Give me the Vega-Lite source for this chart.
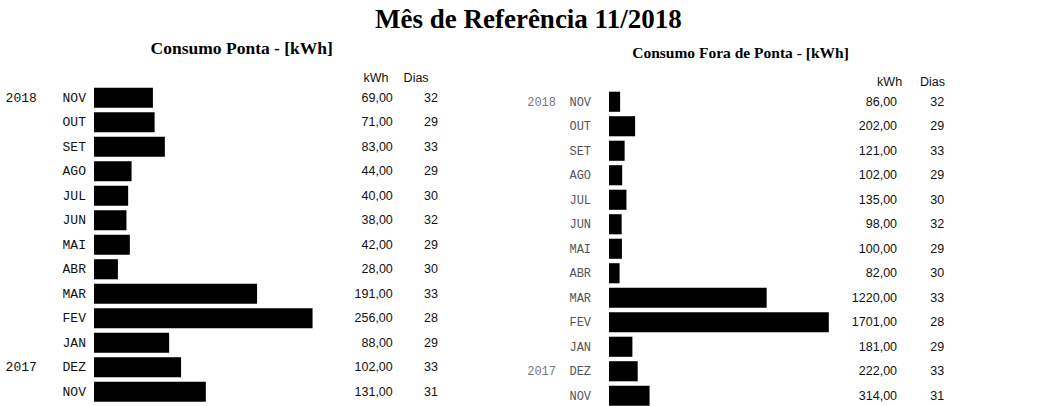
{
  "$schema": "https://vega.github.io/schema/vega-lite/v6.json",
  "background": "white",
  "padding": 5,
  "title": {"text": "Mês de Referência 11/2018", "font": "Liberation Serif", "fontSize": 27, "fontWeight": "bold", "color": "#000", "anchor": "middle", "dx": 51, "offset": 6},
  "datasets": {
    "ponta": [
      {"per": "2018-11", "ano": "2018", "mes": "NOV", "kwh": 69, "dias": 32},
      {"per": "2018-10", "ano": "", "mes": "OUT", "kwh": 71, "dias": 29},
      {"per": "2018-09", "ano": "", "mes": "SET", "kwh": 83, "dias": 33},
      {"per": "2018-08", "ano": "", "mes": "AGO", "kwh": 44, "dias": 29},
      {"per": "2018-07", "ano": "", "mes": "JUL", "kwh": 40, "dias": 30},
      {"per": "2018-06", "ano": "", "mes": "JUN", "kwh": 38, "dias": 32},
      {"per": "2018-05", "ano": "", "mes": "MAI", "kwh": 42, "dias": 29},
      {"per": "2018-04", "ano": "", "mes": "ABR", "kwh": 28, "dias": 30},
      {"per": "2018-03", "ano": "", "mes": "MAR", "kwh": 191, "dias": 33},
      {"per": "2018-02", "ano": "", "mes": "FEV", "kwh": 256, "dias": 28},
      {"per": "2018-01", "ano": "", "mes": "JAN", "kwh": 88, "dias": 29},
      {"per": "2017-12", "ano": "2017", "mes": "DEZ", "kwh": 102, "dias": 33},
      {"per": "2017-11", "ano": "", "mes": "NOV", "kwh": 131, "dias": 31}
    ],
    "fora": [
      {"per": "2018-11", "ano": "2018", "mes": "NOV", "kwh": 86, "dias": 32},
      {"per": "2018-10", "ano": "", "mes": "OUT", "kwh": 202, "dias": 29},
      {"per": "2018-09", "ano": "", "mes": "SET", "kwh": 121, "dias": 33},
      {"per": "2018-08", "ano": "", "mes": "AGO", "kwh": 102, "dias": 29},
      {"per": "2018-07", "ano": "", "mes": "JUL", "kwh": 135, "dias": 30},
      {"per": "2018-06", "ano": "", "mes": "JUN", "kwh": 98, "dias": 32},
      {"per": "2018-05", "ano": "", "mes": "MAI", "kwh": 100, "dias": 29},
      {"per": "2018-04", "ano": "", "mes": "ABR", "kwh": 82, "dias": 30},
      {"per": "2018-03", "ano": "", "mes": "MAR", "kwh": 1220, "dias": 33},
      {"per": "2018-02", "ano": "", "mes": "FEV", "kwh": 1701, "dias": 28},
      {"per": "2018-01", "ano": "", "mes": "JAN", "kwh": 181, "dias": 29},
      {"per": "2017-12", "ano": "2017", "mes": "DEZ", "kwh": 222, "dias": 33},
      {"per": "2017-11", "ano": "", "mes": "NOV", "kwh": 314, "dias": 31}
    ],
    "cab": [{"h": "x"}]
  },
  "spacing": 83,
  "hconcat": [
    {
      "width": 350,
      "height": 343,
      "title": {"text": "Consumo Ponta - [kWh]", "font": "Liberation Serif", "fontSize": 17.5, "fontWeight": "bold", "color": "#000", "anchor": "start", "dx": 145, "offset": 4},
      "data": {"name": "ponta"},
      "encoding": {
        "y": {"field": "per", "type": "nominal", "axis": null,
          "scale": {"domain": ["hdr", "2018-11", "2018-10", "2018-09", "2018-08", "2018-07", "2018-06", "2018-05", "2018-04", "2018-03", "2018-02", "2018-01", "2017-12", "2017-11"], "paddingInner": 0.18, "paddingOuter": 0.09}}
      },
      "layer": [
        {"mark": {"type": "bar", "color": "#000"},
         "encoding": {"x": {"field": "kwh", "type": "quantitative", "axis": null, "scale": {"domain": [0, 410], "nice": false, "zero": true}}}},
        {"mark": {"type": "text", "align": "right", "baseline": "middle", "font": "Liberation Mono", "fontSize": 13, "color": "#111"},
         "encoding": {"x": {"datum": -67}, "text": {"field": "ano"}}},
        {"mark": {"type": "text", "align": "right", "baseline": "middle", "font": "Liberation Mono", "fontSize": 13, "color": "#111"},
         "encoding": {"x": {"datum": -9.4}, "text": {"field": "mes"}}},
        {"mark": {"type": "text", "align": "right", "baseline": "middle", "font": "Liberation Sans", "fontSize": 12.5, "color": "#111"},
         "encoding": {"x": {"datum": 350}, "text": {"field": "kwh", "type": "quantitative", "format": ".2f"}}},
        {"mark": {"type": "text", "align": "right", "baseline": "middle", "font": "Liberation Sans", "fontSize": 12.5, "color": "#111"},
         "encoding": {"x": {"datum": 403}, "text": {"field": "dias", "type": "quantitative"}}},
        {"data": {"name": "cab"},
         "mark": {"type": "text", "align": "right", "baseline": "middle", "font": "Liberation Sans", "fontSize": 12.5, "color": "#111", "dy": 5, "text": "kWh"},
         "encoding": {"x": {"datum": 345}, "y": {"datum": "hdr"}}},
        {"data": {"name": "cab"},
         "mark": {"type": "text", "align": "right", "baseline": "middle", "font": "Liberation Sans", "fontSize": 12.5, "color": "#111", "dy": 5, "text": "Dias"},
         "encoding": {"x": {"datum": 392}, "y": {"datum": "hdr"}}}
      ]
    },
    {
      "width": 340,
      "height": 351,
      "title": {"text": "Consumo Fora de Ponta - [kWh]", "font": "Liberation Serif", "fontSize": 15.5, "fontWeight": "bold", "color": "#000", "anchor": "start", "dx": 105, "offset": 0},
      "data": {"name": "fora"},
      "encoding": {
        "y": {"field": "per", "type": "nominal", "axis": null,
          "scale": {"domain": ["hdr", "2018-11", "2018-10", "2018-09", "2018-08", "2018-07", "2018-06", "2018-05", "2018-04", "2018-03", "2018-02", "2018-01", "2017-12", "2017-11"], "paddingInner": 0.18, "paddingOuter": 0.253}}
      },
      "layer": [
        {"mark": {"type": "bar", "color": "#000"},
         "encoding": {"x": {"field": "kwh", "type": "quantitative", "axis": null, "scale": {"domain": [0, 2631], "nice": false, "zero": true}}}},
        {"mark": {"type": "text", "align": "right", "baseline": "middle", "font": "Liberation Mono", "fontSize": 12, "color": "#777"},
         "encoding": {"x": {"datum": -410}, "text": {"field": "ano"}}},
        {"mark": {"type": "text", "align": "right", "baseline": "middle", "font": "Liberation Mono", "fontSize": 12, "color": "#555"},
         "encoding": {"x": {"datum": -139}, "text": {"field": "mes"}}},
        {"mark": {"type": "text", "align": "right", "baseline": "middle", "font": "Liberation Sans", "fontSize": 12.5, "color": "#111"},
         "encoding": {"x": {"datum": 2229}, "text": {"field": "kwh", "type": "quantitative", "format": ".2f"}}},
        {"mark": {"type": "text", "align": "right", "baseline": "middle", "font": "Liberation Sans", "fontSize": 12.5, "color": "#111"},
         "encoding": {"x": {"datum": 2593}, "text": {"field": "dias", "type": "quantitative"}}},
        {"data": {"name": "cab"},
         "mark": {"type": "text", "align": "right", "baseline": "middle", "font": "Liberation Sans", "fontSize": 12.5, "color": "#111", "dy": 5, "text": "kWh"},
         "encoding": {"x": {"datum": 2268}, "y": {"datum": "hdr"}}},
        {"data": {"name": "cab"},
         "mark": {"type": "text", "align": "right", "baseline": "middle", "font": "Liberation Sans", "fontSize": 12.5, "color": "#111", "dy": 5, "text": "Dias"},
         "encoding": {"x": {"datum": 2600}, "y": {"datum": "hdr"}}}
      ]
    }
  ],
  "config": {
    "view": {"stroke": null},
    "locale": {"number": {"decimal": ",", "thousands": ".", "grouping": [3], "currency": ["R$ ", ""]}}
  }
}
